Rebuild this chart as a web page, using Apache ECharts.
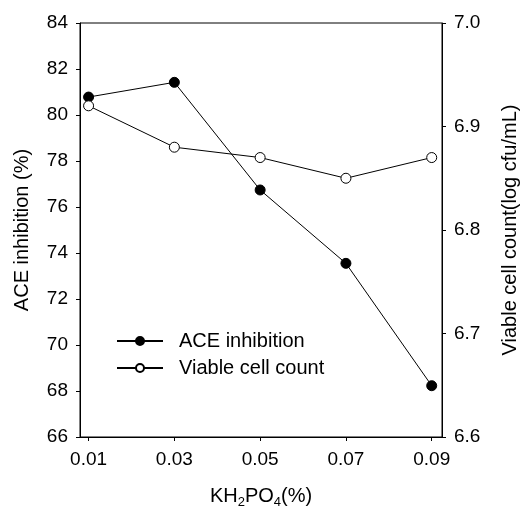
<!DOCTYPE html>
<html><head><meta charset="utf-8">
<script src="https://cdn.jsdelivr.net/npm/echarts@6/dist/echarts.min.js"></script>
<style>html,body{margin:0;padding:0;background:#fff}#c{width:521px;height:511px}</style>
</head><body><div id="c"></div>
<script>
const xValues = [0.01, 0.03, 0.05, 0.07, 0.09];
const aceInhibition = [80.78, 81.42, 76.74, 73.55, 68.23];
const viableCellCount = [6.92, 6.88, 6.87, 6.85, 6.87];
const xTickValues = [0.01, 0.03, 0.05, 0.07, 0.09];
const seriesNames = ['ACE inhibition', 'Viable cell count'];

const FONT = '"Liberation Sans", Arial, sans-serif';
const chart = echarts.init(document.getElementById('c'), null, {renderer: 'canvas'});
const axisLineStyle = {color: '#000', width: 1};
chart.setOption({
  backgroundColor: '#fff',
  animation: false,
  textStyle: {fontFamily: FONT, color: '#000'},
  grid: {left: 80, right: 79, top: 23, bottom: 74, outerBoundsMode: 'none', containLabel: false,
         show: true, borderColor: '#000', borderWidth: 1, backgroundColor: 'transparent'},
  legend: {
    orient: 'vertical', left: 116, top: 331, padding: 0, itemWidth: 46, itemHeight: 10, itemGap: 7,
    textStyle: {fontFamily: FONT, fontSize: 20, color: '#000', padding: [0, 0, 0, 11]},
    data: seriesNames
  },
  xAxis: {
    type: 'value', min: 0.008, max: 0.0924,
    splitLine: {show: false},
    axisLine: {show: true, onZero: false, lineStyle: axisLineStyle},
    axisTick: {show: true, length: 4, lineStyle: axisLineStyle, customValues: xTickValues},
    axisLabel: {fontFamily: FONT, fontSize: 19, color: '#000', margin: 13, customValues: xTickValues,
                formatter: v => v.toFixed(2)},
    name: 'KH{sub|2}PO{sub|4}(%)', nameLocation: 'middle', nameGap: 46,
    nameTextStyle: {fontFamily: FONT, fontSize: 20, color: '#000', lineHeight: 26,
      rich: {sub: {fontFamily: FONT, fontSize: 13, lineHeight: 12, verticalAlign: 'bottom', color: '#000'}}}
  },
  yAxis: [{
    type: 'value', min: 66, max: 84, interval: 2, position: 'left',
    splitLine: {show: false},
    axisLine: {show: true, lineStyle: axisLineStyle},
    axisTick: {show: true, length: 4, lineStyle: axisLineStyle},
    axisLabel: {fontFamily: FONT, fontSize: 19, color: '#000', margin: 12},
    name: 'ACE inhibition (%)', nameLocation: 'middle', nameGap: 48,
    nameTextStyle: {fontFamily: FONT, fontSize: 20, color: '#000'}
  }, {
    type: 'value', min: 6.6, max: 7.0, interval: 0.1, position: 'right',
    splitLine: {show: false},
    axisLine: {show: true, lineStyle: axisLineStyle},
    axisTick: {show: true, length: 4, lineStyle: axisLineStyle},
    axisLabel: {fontFamily: FONT, fontSize: 19, color: '#000', margin: 12, formatter: v => v.toFixed(1)},
    name: 'Viable cell count(log cfu/mL)', nameLocation: 'middle', nameGap: 58,
    nameTextStyle: {fontFamily: FONT, fontSize: 20, color: '#000'}
  }],
  series: [{
    name: seriesNames[0], type: 'line', yAxisIndex: 0,
    data: xValues.map((x, i) => [x, aceInhibition[i]]),
    symbol: 'circle', symbolSize: 10,
    lineStyle: {color: '#000', width: 1},
    itemStyle: {color: '#000', borderColor: '#000', borderWidth: 1},
    emphasis: {disabled: true}
  }, {
    name: seriesNames[1], type: 'line', yAxisIndex: 1,
    data: xValues.map((x, i) => [x, viableCellCount[i]]),
    symbol: 'circle', symbolSize: 10,
    lineStyle: {color: '#000', width: 1},
    itemStyle: {color: '#fff', borderColor: '#000', borderWidth: 1},
    emphasis: {disabled: true}
  }]
});
</script></body></html>
